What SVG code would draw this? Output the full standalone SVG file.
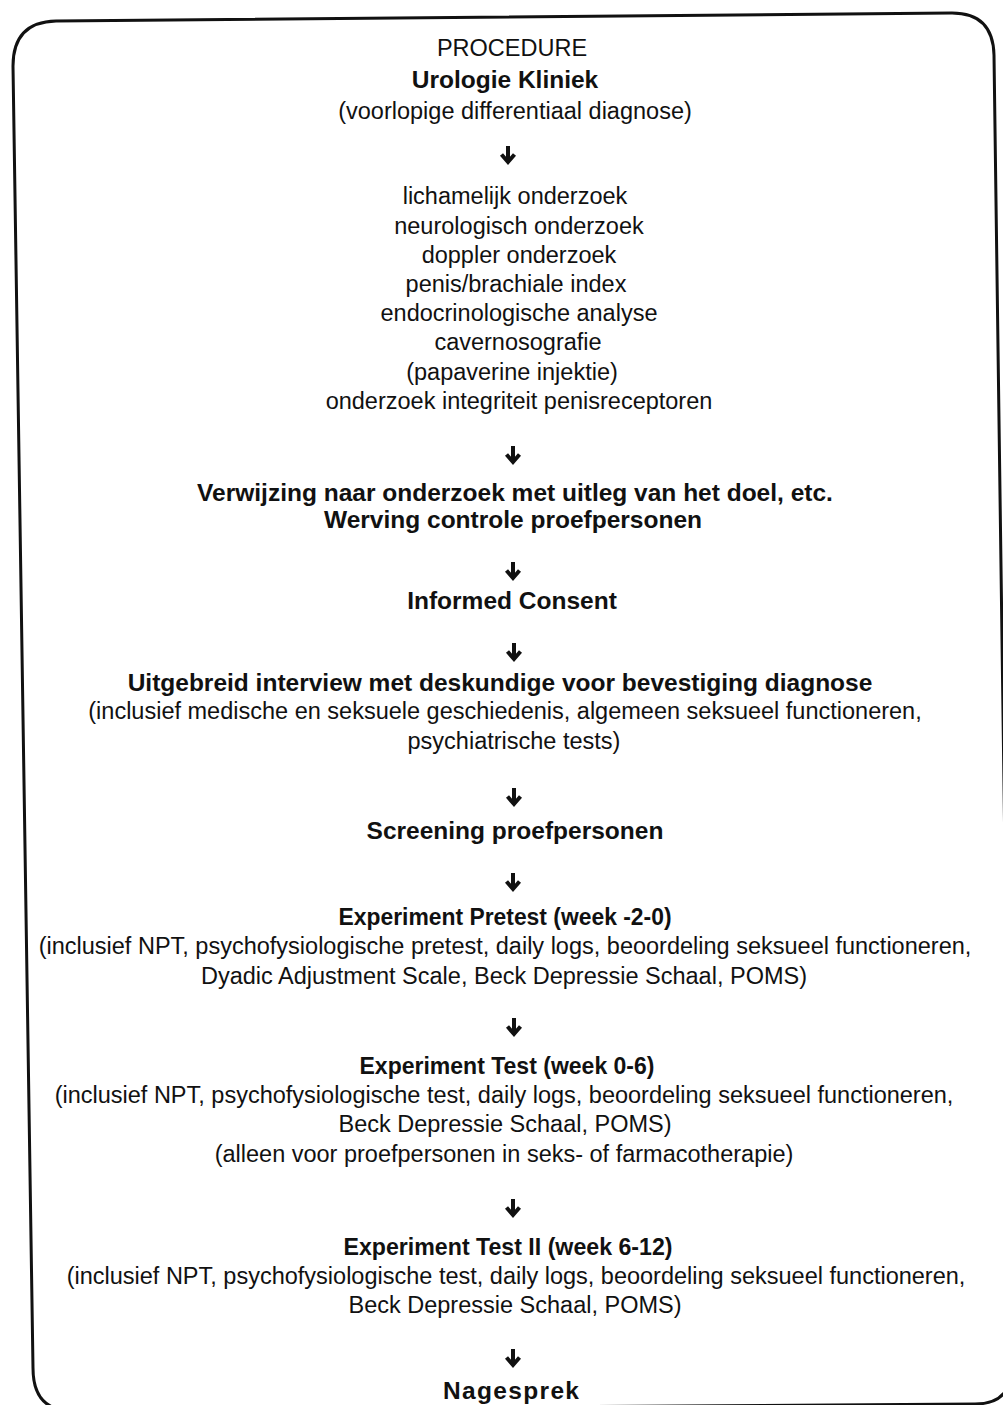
<svg xmlns="http://www.w3.org/2000/svg" width="1003" height="1405" viewBox="0 0 1003 1405">
<style>
text{font-family:"Liberation Sans",Arial,sans-serif;font-size:23.5px;fill:#111;text-anchor:middle}
.b{font-weight:bold;font-size:24.5px}
.arr{fill:none;stroke:#111;stroke-width:4;stroke-linecap:butt;stroke-linejoin:miter}
</style>
<defs>
<path id="arrow" class="arr" d="M0,-9 L0,7 M-6.5,-0.5 L0,7 L6.5,-0.5"/>
</defs>
<rect width="1003" height="1405" fill="#fff"/>
<g id="frame">
<path d="M13,66 Q13,22 56,21 L952,13 Q993,13 994,55 L1012,1370 Q1010,1404 975,1404 L62,1410 Q33,1405 33,1368 Z" fill="none" stroke="#111" stroke-width="3"/>
</g>
<g id="connectors">
<use href="#arrow" x="508" y="155"/>
<use href="#arrow" x="513" y="455"/>
<use href="#arrow" x="513" y="571"/>
<use href="#arrow" x="514" y="652"/>
<use href="#arrow" x="514" y="797"/>
<use href="#arrow" x="513" y="882"/>
<use href="#arrow" x="514" y="1027"/>
<use href="#arrow" x="513" y="1208"/>
<use href="#arrow" x="513" y="1358"/>
</g>
<g id="node-urologie">
<text x="512" y="56">PROCEDURE</text>
<text class="b" x="505" y="88">Urologie Kliniek</text>
<text x="515" y="119">(voorlopige differentiaal diagnose)</text>
</g>
<g id="node-onderzoek">
<text x="515" y="204">lichamelijk onderzoek</text>
<text x="519" y="234">neurologisch onderzoek</text>
<text x="519" y="263">doppler onderzoek</text>
<text x="516" y="292">penis/brachiale index</text>
<text x="519" y="321">endocrinologische analyse</text>
<text x="518" y="350">cavernosografie</text>
<text x="512" y="380">(papaverine injektie)</text>
<text x="519" y="409">onderzoek integriteit penisreceptoren</text>
</g>
<g id="node-verwijzing">
<text class="b" x="515" y="501">Verwijzing naar onderzoek met uitleg van het doel, etc.</text>
<text class="b" x="513" y="528">Werving controle proefpersonen</text>
</g>
<g id="node-consent">
<text class="b" x="512" y="609">Informed Consent</text>
</g>
<g id="node-interview">
<text class="b" x="500" y="691">Uitgebreid interview met deskundige voor bevestiging diagnose</text>
<text x="505" y="719">(inclusief medische en seksuele geschiedenis, algemeen seksueel functioneren,</text>
<text x="514" y="749">psychiatrische tests)</text>
</g>
<g id="node-screening">
<text class="b" x="515" y="839">Screening proefpersonen</text>
</g>
<g id="node-pretest">
<text class="b" x="505" y="925" textLength="333" lengthAdjust="spacingAndGlyphs">Experiment Pretest (week -2-0)</text>
<text x="505" y="954">(inclusief NPT, psychofysiologische pretest, daily logs, beoordeling seksueel functioneren,</text>
<text x="504" y="984">Dyadic Adjustment Scale, Beck Depressie Schaal, POMS)</text>
</g>
<g id="node-test">
<text class="b" x="507" y="1074" textLength="295" lengthAdjust="spacingAndGlyphs">Experiment Test (week 0-6)</text>
<text x="504" y="1103">(inclusief NPT, psychofysiologische test, daily logs, beoordeling seksueel functioneren,</text>
<text x="505" y="1132">Beck Depressie Schaal, POMS)</text>
<text x="504" y="1162">(alleen voor proefpersonen in seks- of farmacotherapie)</text>
</g>
<g id="node-test2">
<text class="b" x="508" y="1255" textLength="329" lengthAdjust="spacingAndGlyphs">Experiment Test II (week 6-12)</text>
<text x="516" y="1284">(inclusief NPT, psychofysiologische test, daily logs, beoordeling seksueel functioneren,</text>
<text x="515" y="1313">Beck Depressie Schaal, POMS)</text>
</g>
<g id="node-nagesprek">
<text class="b" x="511" y="1399" textLength="136" lengthAdjust="spacing">Nagesprek</text>
</g>
</svg>
